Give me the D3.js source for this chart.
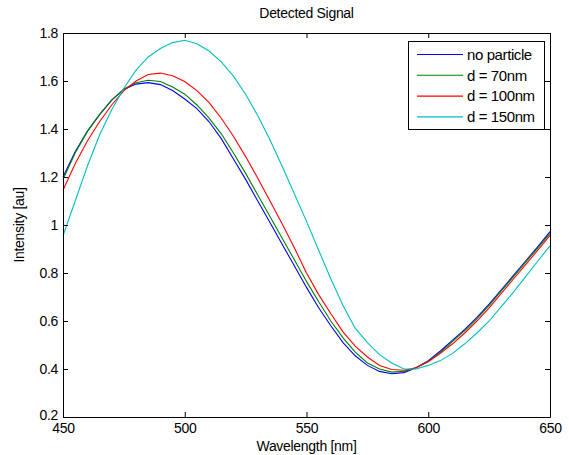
<!DOCTYPE html>
<html>
<head>
<meta charset="utf-8">
<script src="https://cdn.jsdelivr.net/npm/d3@7"></script>
<style>
  body { margin: 0; background: #fff; }
  svg { display: block; }
  text { font-family: "Liberation Sans", Arial, Helvetica, sans-serif; fill: #000; }
</style>
</head>
<body>
<svg id="chart" width="569" height="455"></svg>
<script>
// wavelengths sampled every 5 nm
const wavelengths = d3.range(450, 651, 5);

const noParticle = [1.20, 1.305, 1.39, 1.46, 1.52, 1.565, 1.587, 1.593, 1.585, 1.56,
    1.525, 1.485, 1.43, 1.36, 1.275, 1.19, 1.10, 1.01, 0.92, 0.83,
    0.74, 0.655, 0.58, 0.51, 0.455, 0.415, 0.39, 0.38, 0.385, 0.405,
    0.435, 0.475, 0.52, 0.565, 0.615, 0.67, 0.73, 0.79, 0.85, 0.91, 0.972];

const d70 = [1.19, 1.30, 1.39, 1.46, 1.52, 1.567, 1.593, 1.603, 1.598, 1.575,
    1.545, 1.50, 1.445, 1.38, 1.30, 1.215, 1.125, 1.035, 0.945, 0.855,
    0.765, 0.68, 0.60, 0.53, 0.47, 0.425, 0.40, 0.387, 0.39, 0.405,
    0.432, 0.47, 0.515, 0.56, 0.61, 0.665, 0.725, 0.785, 0.845, 0.905, 0.965];

const d100 = [1.145, 1.255, 1.35, 1.43, 1.50, 1.56, 1.60, 1.627, 1.633, 1.622,
    1.598, 1.56, 1.51, 1.445, 1.37, 1.285, 1.195, 1.10, 1.005, 0.905,
    0.80, 0.71, 0.63, 0.555, 0.495, 0.45, 0.415, 0.398, 0.395, 0.405,
    0.43, 0.465, 0.505, 0.55, 0.60, 0.655, 0.715, 0.775, 0.835, 0.895, 0.957];

const d150 = [0.955, 1.10, 1.245, 1.375, 1.48, 1.57, 1.645, 1.70, 1.735, 1.76,
    1.77, 1.755, 1.725, 1.68, 1.62, 1.545, 1.455, 1.355, 1.245, 1.13,
    1.015, 0.895, 0.775, 0.665, 0.57, 0.51, 0.46, 0.425, 0.40, 0.40,
    0.415, 0.435, 0.465, 0.505, 0.55, 0.60, 0.66, 0.72, 0.785, 0.85, 0.913];

const seriesNames = ['no particle', 'd = 70nm', 'd = 100nm', 'd = 150nm'];
const seriesValues = [noParticle, d70, d100, d150];
const seriesColors = ['#0000ff', '#008000', '#ff0000', '#00bfbf'];

const xTicks = [450, 500, 550, 600, 650];
const yTicks = [0.2, 0.4, 0.6, 0.8, 1, 1.2, 1.4, 1.6, 1.8];

const margin = { top: 33, right: 19, bottom: 38, left: 63 };
const width = 569, height = 455;
const innerW = width - margin.left - margin.right;
const innerH = height - margin.top - margin.bottom;

const svg = d3.select('#chart');

const x = d3.scaleLinear().domain([450, 650]).range([margin.left, margin.left + innerW]);
const y = d3.scaleLinear().domain([0.2, 1.8]).range([margin.top + innerH, margin.top]);

// title
svg.append('text')
    .attr('x', margin.left + innerW / 2)
    .attr('y', 18)
    .attr('text-anchor', 'middle')
    .attr('font-size', 14)
    .attr('letter-spacing', -0.3)
    .text('Detected Signal');

// curves
const line = d3.line()
    .x((d, i) => x(wavelengths[i]))
    .y(d => y(d));

svg.append('g')
    .selectAll('path')
    .data(seriesValues)
    .join('path')
    .attr('fill', 'none')
    .attr('stroke', (d, i) => seriesColors[i])
    .attr('stroke-width', 1.1)
    .attr('d', line);

// axes with inward ticks, mirrored on top/right
const tickLen = 5;
const fmt = d => String(+d.toFixed(1));

const xAxis = svg.append('g')
    .attr('transform', `translate(0,${margin.top + innerH})`)
    .call(d3.axisBottom(x).tickValues(xTicks).tickSizeInner(-tickLen).tickSizeOuter(0).tickPadding(6));
const yAxis = svg.append('g')
    .attr('transform', `translate(${margin.left},0)`)
    .call(d3.axisLeft(y).tickValues(yTicks).tickFormat(fmt).tickSizeInner(-tickLen).tickSizeOuter(0).tickPadding(5));
const xTop = svg.append('g')
    .attr('transform', `translate(0,${margin.top})`)
    .call(d3.axisTop(x).tickValues(xTicks).tickSizeInner(-tickLen).tickSizeOuter(0).tickFormat(''));
const yRight = svg.append('g')
    .attr('transform', `translate(${margin.left + innerW},0)`)
    .call(d3.axisRight(y).tickValues(yTicks).tickSizeInner(-tickLen).tickSizeOuter(0).tickFormat(''));

[xAxis, yAxis, xTop, yRight].forEach(g => {
    g.selectAll('path').attr('stroke', '#000');
    g.selectAll('line').attr('stroke', '#000');
    g.selectAll('text').attr('font-size', 14).attr('letter-spacing', -0.3)
        .attr('font-family', '"Liberation Sans", Arial, sans-serif').attr('fill', '#000');
});
// lift the lowest y label a touch so it does not collide with "450"
yAxis.selectAll('.tick text').filter(d => d === 0.2).attr('dy', '0.2em');

// axis labels
svg.append('text')
    .attr('x', margin.left + innerW / 2)
    .attr('y', 451)
    .attr('text-anchor', 'middle')
    .attr('font-size', 14)
    .attr('letter-spacing', -0.3)
    .text('Wavelength [nm]');

svg.append('text')
    .attr('transform', `translate(24,${margin.top + innerH / 2}) rotate(-90)`)
    .attr('text-anchor', 'middle')
    .attr('font-size', 14)
    .attr('letter-spacing', -0.3)
    .text('Intensity [au]');

// legend
const legend = svg.append('g');
legend.append('rect')
    .attr('x', 408.5).attr('y', 41.5)
    .attr('width', 136).attr('height', 88)
    .attr('fill', '#fff').attr('stroke', '#000');

const rows = legend.selectAll('g.row')
    .data(seriesNames)
    .join('g')
    .attr('class', 'row')
    .attr('transform', (d, i) => `translate(0,${54.5 + i * 20.8})`);
rows.append('line')
    .attr('x1', 417).attr('x2', 463)
    .attr('stroke', (d, i) => seriesColors[i])
    .attr('stroke-width', 1.1);
rows.append('text')
    .attr('x', 467)
    .attr('dy', '0.35em')
    .attr('font-size', 15)
    .attr('letter-spacing', -0.4)
    .text(d => d);
</script>
</body>
</html>
